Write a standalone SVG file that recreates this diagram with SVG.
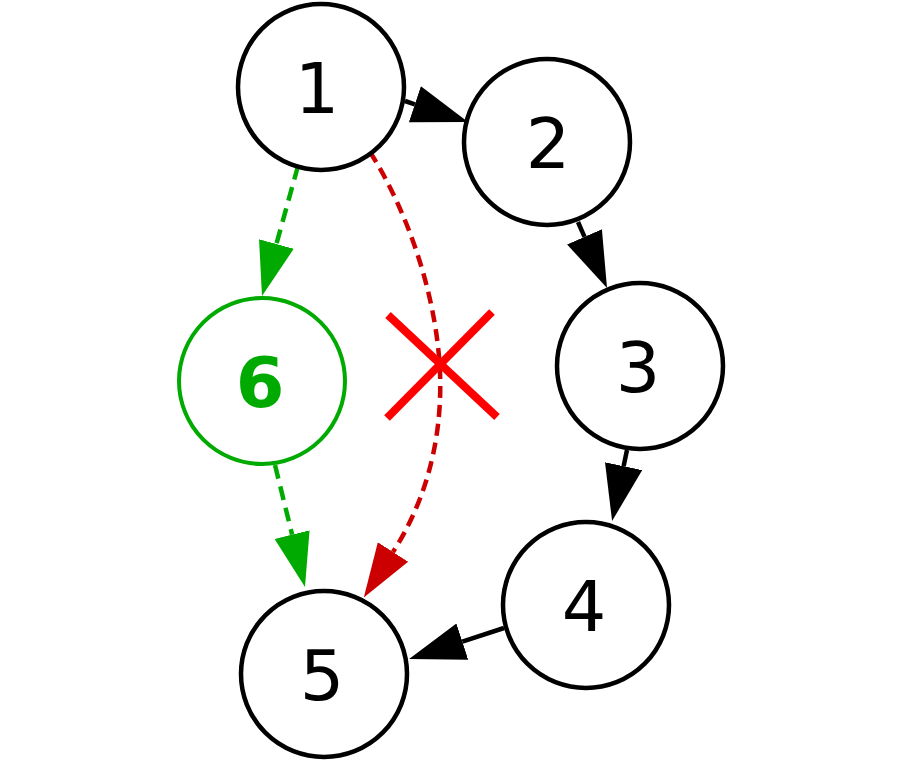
<svg xmlns="http://www.w3.org/2000/svg" width="900" height="780" viewBox="0 0 900 780">
<style>
.node circle{fill:#fff;stroke:#000;stroke-width:4.5}
.node text{font-family:"DejaVu Sans",sans-serif;font-size:70px;text-anchor:middle;fill:#000}
#n6 circle{stroke:#00aa00;stroke-width:4}
#n6 text{fill:#00aa00;font-weight:bold}
.e{fill:none;stroke-width:4.5}
.k{stroke:#000}
.g{stroke:#00aa00;stroke-dasharray:14 8}
.r{stroke:#cc0000;stroke-dasharray:12 7}
.x{stroke:#ff0000;stroke-width:8}
</style>
<defs>
<marker id="ak" markerUnits="userSpaceOnUse" markerWidth="60" markerHeight="40" refX="0" refY="19" orient="auto" viewBox="0 0 60 40"><path d="M0,0 L56,19 L0,38 z" fill="#000"/></marker>
<marker id="ag" markerUnits="userSpaceOnUse" markerWidth="60" markerHeight="40" refX="0" refY="19" orient="auto" viewBox="0 0 60 40"><path d="M0,1 L54,19 L0,37 z" fill="#00aa00"/></marker>
<marker id="ar" markerUnits="userSpaceOnUse" markerWidth="60" markerHeight="40" refX="0" refY="19" orient="auto" viewBox="0 0 60 40"><path d="M0,1 L54,19 L0,37 z" fill="#cc0000"/></marker>
</defs>
<rect width="900" height="780" fill="#fff"/>
<g id="connectors">
<path class="e k" d="M405,101 L414.9,104.3" marker-end="url(#ak)"/>
<path class="e k" d="M578,222 L584.5,236.8" marker-end="url(#ak)"/>
<path class="e k" d="M627,450 L623.6,466.2" marker-end="url(#ak)"/>
<path class="e k" d="M504,628 L462.3,641.6" marker-end="url(#ak)"/>
<path class="e g" d="M298,166 L276.4,244" marker-end="url(#ag)"/>
<path class="e g" d="M275,465 L292.1,534.6" marker-end="url(#ag)"/>
<path class="e r" d="M370,152 C410,215 437,300 440,372 C443,450 420,510 393,552" marker-end="url(#ar)"/>
</g>
<g id="cross">
<line class="x" x1="388" y1="315" x2="497" y2="417"/>
<line class="x" x1="492" y1="312" x2="387" y2="418"/>
</g>
<g id="n1" class="node"><circle cx="321" cy="87" r="83"/><text x="317" y="113">1</text></g>
<g id="n2" class="node"><circle cx="547" cy="142" r="83"/><text x="548" y="168">2</text></g>
<g id="n3" class="node"><circle cx="640" cy="366" r="83"/><text x="638" y="392">3</text></g>
<g id="n4" class="node"><circle cx="586" cy="605" r="83"/><text x="584" y="631">4</text></g>
<g id="n5" class="node"><circle cx="324" cy="674" r="83"/><text x="322" y="700">5</text></g>
<g id="n6" class="node"><circle cx="262" cy="381" r="83"/><text x="260" y="407">6</text></g>
</svg>
